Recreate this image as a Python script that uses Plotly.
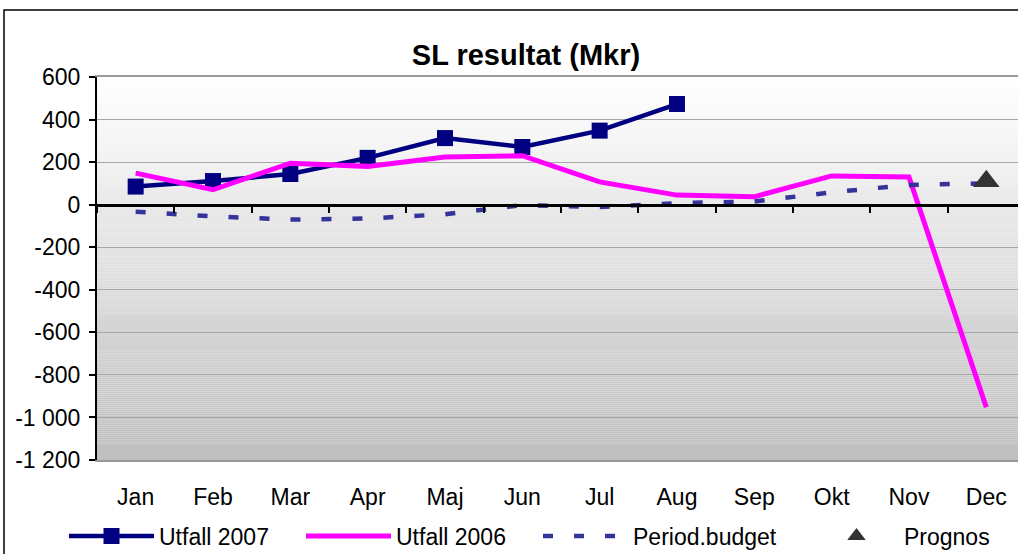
import plotly.graph_objects as go

months = ["Jan", "Feb", "Mar", "Apr", "Maj", "Jun", "Jul", "Aug", "Sep", "Okt", "Nov", "Dec"]
utfall_2007 = [85, 111, 144, 220, 313, 271, 348, 473, None, None, None, None]
utfall_2006 = [148, 70, 195, 180, 224, 230, 107, 45, 37, 135, 130, -952]
period_budget = [-33, -55, -70, -65, -45, -2, -11, 7, 15, 58, 93, 100]
prognos = [None, None, None, None, None, None, None, None, None, None, None, 110]
ytick_vals = [-1200, -1000, -800, -600, -400, -200, 0, 200, 400, 600]
ytick_text = ["-1 200", "-1 000", "-800", "-600", "-400", "-200", "0", "200", "400", "600"]

FONT = "Liberation Sans, Arial, sans-serif"
W, H = 1018, 554
ML, MR, MT, MB = 97, 0, 77, 94
PW = W - ML - MR
PH = H - MT - MB
XR = [-0.5, 11.41]
YR = [-1200, 600]

def px_x(p):
    return (p - ML) / PW

def px_y(p):
    return (H - MB - p) / PH

fig = go.Figure()

fig.add_trace(go.Scatter(
    x=months, y=utfall_2007, name="Utfall 2007", mode="lines+markers",
    line=dict(color="#000080", width=4.5),
    marker=dict(symbol="square", size=16, color="#000080"),
    legend="legend", hoverinfo="skip"))
fig.add_trace(go.Scatter(
    x=months, y=utfall_2006, name="Utfall 2006", mode="lines",
    line=dict(color="#ff00ff", width=5),
    legend="legend2", hoverinfo="skip"))
fig.add_trace(go.Scatter(
    x=months, y=period_budget, name="Period.budget", mode="lines",
    line=dict(color="#333399", width=4.5, dash="10px,21px"),
    legend="legend3", hoverinfo="skip"))
fig.add_trace(go.Scatter(
    x=months, y=prognos, name="Prognos", mode="markers",
    marker=dict(symbol="triangle-up", size=23, color="#333333"),
    legend="legend4", hoverinfo="skip"))
# dummy trace for the zero-line axis
fig.add_trace(go.Scatter(x=[None], y=[None], xaxis="x2", showlegend=False, hoverinfo="skip"))

# gradient background bands
N = 190
top = 255
bot = 190
for i in range(N):
    y0 = YR[1] - (YR[1] - YR[0]) * i / N
    y1 = YR[1] - (YR[1] - YR[0]) * (i + 1) / N
    t = (i + 0.5) / N
    c = int(round(top + (bot - top) * t))
    fig.add_shape(type="rect", xref="x domain", yref="y", x0=0, x1=1, y0=y1, y1=y0,
                  fillcolor=f"rgb({c},{c},{c})", line=dict(width=0), layer="below")

# outer chart border
fig.add_shape(type="rect", xref="paper", yref="paper",
              x0=px_x(4), x1=px_x(W + 20), y0=px_y(H + 20), y1=px_y(10),
              line=dict(color="black", width=1.5), fillcolor="rgba(0,0,0,0)")

tickfont = dict(family=FONT, size=23, color="black")

fig.update_layout(
    width=W, height=H,
    margin=dict(l=ML, r=MR, t=MT, b=MB, autoexpand=False),
    paper_bgcolor="white", plot_bgcolor="white",
    title=dict(text="<b>SL resultat (Mkr)</b>", font=dict(family=FONT, size=29, color="black"),
               x=526 / W, xref="container", xanchor="center",
               y=1 - 55 / H, yref="container", yanchor="middle"),
    xaxis=dict(type="category", range=XR, showgrid=False, zeroline=False,
               showline=True, linecolor="#999999", linewidth=2, mirror=True,
               ticks="", tickfont=tickfont, ticklabelstandoff=15, automargin=False),
    xaxis2=dict(overlaying="x", anchor="free", position=(0 - YR[0]) / (YR[1] - YR[0]),
                range=XR, showgrid=False, zeroline=False, showline=True,
                linecolor="black", linewidth=2.5, ticks="outside", ticklen=7,
                tickwidth=2, tickcolor="black",
                tickvals=[v - 0.5 for v in range(12)], showticklabels=False),
    yaxis=dict(range=YR, tickvals=ytick_vals, ticktext=ytick_text,
               showgrid=True, gridcolor="#a6a6a6", gridwidth=1, zeroline=False,
               showline=True, linecolor="black", linewidth=2,
               ticks="outside", ticklen=6, tickwidth=2, tickcolor="black",
               tickfont=tickfont, ticklabelstandoff=4, automargin=False),
    showlegend=True,
)

ly = px_y(536)
lfont = dict(family=FONT, size=23, color="black")
for name, xpx in [("legend", 64), ("legend2", 301), ("legend3", 538), ("legend4", 809)]:
    fig.update_layout({name: dict(x=px_x(xpx), y=ly, xanchor="left", yanchor="middle",
                                  orientation="h", font=lfont, bgcolor="rgba(0,0,0,0)",
                                  borderwidth=0, itemwidth=85)})

fig.write_html("out.html", config={"displayModeBar": False},
               post_script="document.body.style.margin='0';")
